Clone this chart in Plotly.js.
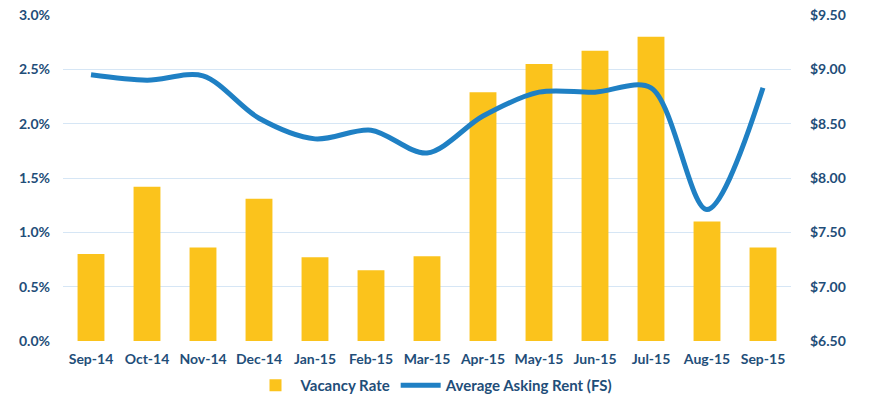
<!DOCTYPE html>
<html><head><meta charset="utf-8">
<script src="https://cdn.plot.ly/plotly-3.0.1.min.js"></script>
<style>html,body{margin:0;padding:0;background:#fff}#c{width:869px;height:402px}</style>
</head><body><div id="c"></div>
<script>
const months = ["Sep-14","Oct-14","Nov-14","Dec-14","Jan-15","Feb-15","Mar-15","Apr-15","May-15","Jun-15","Jul-15","Aug-15","Sep-15"];
const vacancyRate = [0.0080,0.0142,0.0086,0.0131,0.0077,0.0065,0.0078,0.0229,0.0255,0.0267,0.0280,0.0110,0.0086];
const askingRent = [8.95,8.90,8.94,8.55,8.36,8.44,8.23,8.57,8.79,8.79,8.83,7.71,8.83];
const leftTicks = [0,0.005,0.01,0.015,0.02,0.025,0.03];
const rightTicks = [6.5,7.0,7.5,8.0,8.5,9.0,9.5];

const txt = '#1f4e79';
const fnt = {family:'Lato, "Open Sans", sans-serif', size:14, color:txt, weight:'bold'};
const lfnt = {family:'Lato, "Open Sans", sans-serif', size:15, color:txt, weight:'bold'};
const data = [
 {type:'bar', x:months, y:vacancyRate, name:'Vacancy Rate', marker:{color:'#fbc31c'}, width:0.48, yaxis:'y'},
 {type:'scatter', mode:'lines', x:months, y:askingRent, name:'Average Asking Rent (FS)', yaxis:'y2',
  line:{color:'#1f80c4', width:5, shape:'spline', smoothing:0.9}}
];
const layout = {
 width:869, height:402, margin:{l:63,r:78,t:15,b:61},
 paper_bgcolor:'#fff', plot_bgcolor:'#fff', font:fnt, bargap:0.52,
 xaxis:{type:'category', tickfont:fnt, showgrid:false, showline:false, ticks:'', zeroline:false, ticklabelstandoff:8, automargin:false},
 yaxis:{range:[0,0.03], tickvals:leftTicks, tickformat:'.1%', tickfont:fnt, gridcolor:'#d6e6f5', gridwidth:1, zeroline:false, ticks:'', ticklabelstandoff:12, automargin:false},
 yaxis2:{range:[6.5,9.5], overlaying:'y', side:'right', tickvals:rightTicks, tickformat:'$.2f', tickfont:fnt, showgrid:false, zeroline:false, ticks:'', ticklabelstandoff:18, automargin:false},
 legend:{orientation:'h', x:0.5, xanchor:'center', xref:'container', yref:'container', y:-0.018, yanchor:'bottom', font:lfnt, traceorder:'normal', itemwidth:40},
 showlegend:true
};
Plotly.newPlot('c', data, layout, {displayModeBar:false, staticPlot:true});
</script></body></html>
